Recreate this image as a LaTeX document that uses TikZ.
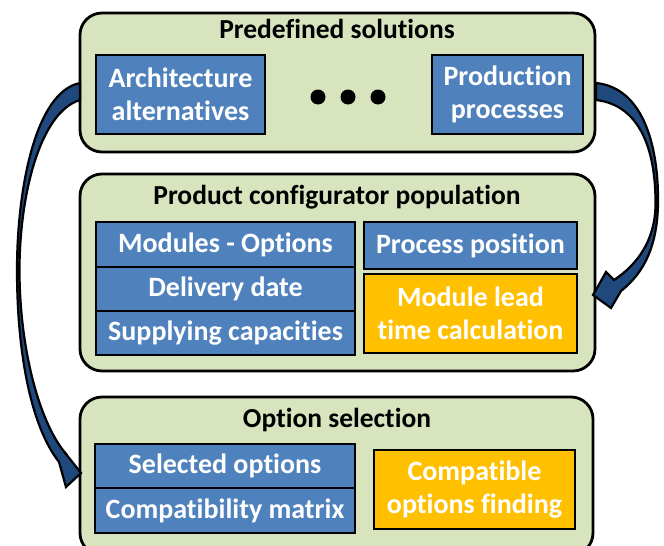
\documentclass[tikz,border=0pt]{standalone}
\usepackage{fontspec}
\setmainfont{Carlito}[Ligatures=NoCommon]
\definecolor{greenfill}{RGB}{215,228,189}
\definecolor{bluefill}{RGB}{79,129,189}
\definecolor{orangefill}{RGB}{255,192,0}
\definecolor{arrowblue}{RGB}{31,73,125}
\begin{document}
\begin{tikzpicture}[x=1pt,y=-1pt,
  panel/.style={draw=black,line width=2.8pt,fill=greenfill,rounded corners=22pt,inner sep=0pt},
  bluebox/.style={draw=black,line width=2.8pt,fill=bluefill,inner sep=0pt,text=white,align=center,
     font=\fontsize{28}{32.5}\selectfont\bfseries},
  orangebox/.style={draw=black,line width=2.8pt,fill=orangefill,inner sep=0pt,text=white,align=center,
     font=\fontsize{28}{33}\selectfont\bfseries},
  paneltitle/.style={inner sep=0pt,text=black,font=\fontsize{27.5}{30}\selectfont\bfseries},
  dot/.style={circle,fill=black,minimum size=15pt,inner sep=0pt},
  bigarrow/.style={fill=arrowblue,draw=black,line width=2.2pt,line join=miter}]
\useasboundingbox (0,0) rectangle (664,546);
\clip (0,0) rectangle (664,546);
% panels
\node[panel,minimum width=515pt,minimum height=139pt] (p1) at (337.5,82.5) {};
\node[panel,minimum width=515pt,minimum height=197pt] (p2) at (337.5,272.5) {};
\node[panel,minimum width=513pt,minimum height=158pt] (p3) at (336.5,476) {};
% titles
\node[paneltitle] (t1) at (337,29) {Predefined solutions};
\node[paneltitle] (t2) at (337,197) {Product configurator population};
\node[paneltitle] (t3) at (337,420) {Option selection};
% predefined solutions
\node[bluebox,minimum width=169pt,minimum height=79pt] (arch) at (180.5,94.5) {Architecture\\alternatives};
\node[bluebox,minimum width=151pt,minimum height=79pt] (prod) at (507.5,94.5) {Production\\processes};
\node[dot] (d1) at (318,97) {};
\node[dot] (d2) at (348,97) {};
\node[dot] (d3) at (378,97) {};
% product configurator population
\node[bluebox,minimum width=259pt,minimum height=45pt] (mod) at (225.5,244.5) {Modules - Options};
\node[bluebox,minimum width=259pt,minimum height=44pt] (del) at (225.5,289) {Delivery date};
\node[bluebox,minimum width=259pt,minimum height=44pt] (sup) at (225.5,333) {Supplying capacities};
\node[bluebox,minimum width=213pt,minimum height=47pt] (pos) at (470.5,245.5) {Process position};
\node[orangebox,minimum width=213pt,minimum height=79pt] (lead) at (470.5,313.5) {Module lead\\time calculation};
% option selection
\node[bluebox,minimum width=260pt,minimum height=44pt] (sel) at (225,466) {Selected options};
\node[bluebox,minimum width=260pt,minimum height=45pt] (mat) at (225,510.5) {Compatibility matrix};
\node[orangebox,minimum width=201pt,minimum height=79pt] (find) at (474.5,489.5) {Compatible\\options finding};
% curved block arrows
\draw[bigarrow] (80,83) .. controls (35,92) and (17,190) .. (17,270)
  .. controls (17,350) and (30,425) .. (59,462)
  -- (66,487) -- (81,473) -- (62,449) -- (67,455)
  .. controls (40,425) and (19.5,350) .. (19.5,270)
  .. controls (19.5,195) and (40,112) .. (80,100) -- cycle;
\draw[bigarrow] (596,83) .. controls (645,88) and (659,150) .. (658,205)
  .. controls (657,245) and (645,272) .. (621,291)
  -- (611,308) -- (593,295) -- (606,272) -- (614,280)
  .. controls (638,264) and (655,240) .. (655.5,205)
  .. controls (656,150) and (640,105) .. (596,100) -- cycle;
\end{tikzpicture}
\end{document}
